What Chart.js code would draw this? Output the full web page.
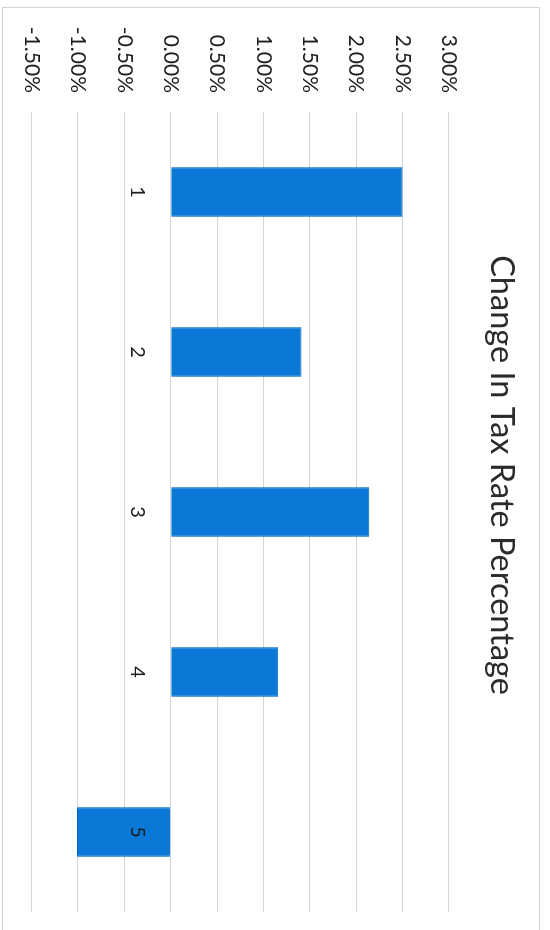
<!DOCTYPE html>
<html>
<head>
<meta charset="utf-8">
<script src="https://cdn.jsdelivr.net/npm/chart.js@4"></script>
<style>
  html, body { margin: 0; padding: 0; background: #fff; overflow: hidden; width: 550px; height: 930px; }
  /* the scanned chart is turned a quarter turn clockwise */
  #wrap { position: absolute; left: 0; top: 0; width: 950px; height: 550px;
          transform-origin: 0 0; transform: translate(550px, 0) rotate(90deg); }
  #frame { position: absolute; left: 7px; top: 10px; width: 960px; height: 536px; border: 1px solid #d4d4d4; }
  #chart { position: absolute; left: 0; top: 0; }
</style>
</head>
<body>
<div id="wrap">
  <div id="frame"></div>
  <canvas id="chart" width="950" height="550"></canvas>
</div>
<script>
// Chart data
const categories = ['1', '2', '3', '4', '5'];
const changePct = [2.50, 1.41, 2.14, 1.16, -1.01];
const tickMin = -1.5;
const tickMax = 3.0;
const tickStep = 0.5;

const ctx = document.getElementById('chart').getContext('2d');
new Chart(ctx, {
  type: 'bar',
  data: {
    labels: categories,
    datasets: [{
      data: changePct,
      backgroundColor: '#0a78d6',
      borderColor: '#0663c4',
      borderWidth: 1,
      categoryPercentage: 0.31,
      barPercentage: 1
    }]
  },
  options: {
    responsive: false,
    animation: false,
    devicePixelRatio: 1,
    layout: { padding: { left: 0, right: 0, top: 0, bottom: 26 } },
    plugins: {
      legend: { display: false },
      tooltip: { enabled: false },
      title: {
        display: true,
        text: 'Change In Tax Rate Percentage',
        color: '#2b2b2b',
        font: { family: 'Lato', size: 32.5, weight: 'normal' },
        padding: { top: 29, bottom: 33 }
      }
    },
    scales: {
      x: {
        position: { y: 0 },
        grid: { display: false, drawTicks: false },
        border: { display: false },
        // labels sit on top of the bars (the "5" is printed over its bar)
        ticks: { z: 1, color: '#1e1e1e', padding: 21, font: { family: 'Lato', size: 20 } }
      },
      y: {
        min: tickMin,
        max: tickMax,
        grid: { color: '#d6d6d6', drawTicks: false },
        border: { display: false },
        ticks: {
          stepSize: tickStep,
          color: '#1e1e1e',
          padding: 19,
          font: { family: 'Lato', size: 21 },
          callback: v => v.toFixed(2) + '%'
        },
        afterFit: s => { s.width = 112; }
      },
      // empty strip on the far side so the title sits where it does in the scan
      yEdge: {
        axis: 'y',
        position: 'right',
        grid: { display: false, drawTicks: false },
        border: { display: false },
        ticks: { display: false },
        afterFit: s => { s.width = 38; }
      }
    }
  }
});
</script>
</body>
</html>
